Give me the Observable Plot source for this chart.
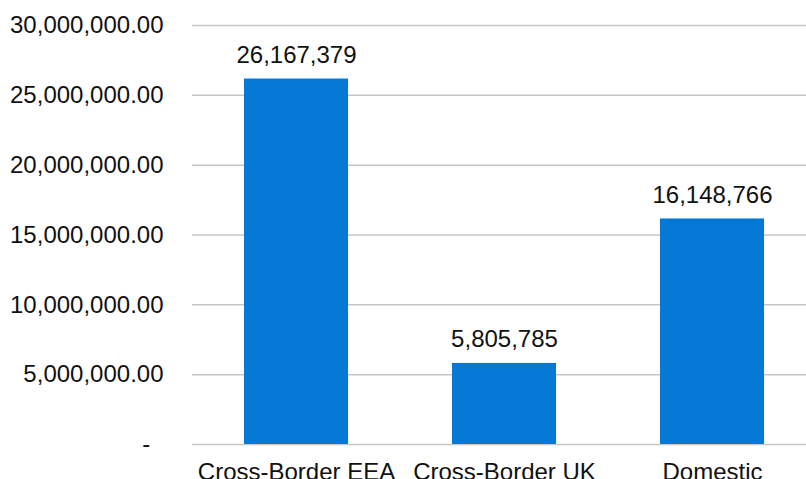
<!DOCTYPE html>
<html>
<head>
<meta charset="utf-8">
<script src="https://cdn.jsdelivr.net/npm/d3@7"></script>
<script src="https://cdn.jsdelivr.net/npm/@observablehq/plot@0.6"></script>
<style>
  html, body { margin: 0; padding: 0; background: #fff; }
  #chart svg { display: block; }
</style>
</head>
<body>
<div id="chart"></div>
<script>
const categories = ["Cross-Border EEA", "Cross-Border UK", "Domestic"];
const values = [26167379, 5805785, 16148766];
const yTicks = [0, 5000000, 10000000, 15000000, 20000000, 25000000, 30000000];

const data = categories.map((c, i) => ({category: c, value: values[i]}));

const fmtTick = v => v === 0 ? "-\u00a0\u00a0" : d3.format(",.2f")(v);
const fmtVal = d3.format(",");

const chart = Plot.plot({
  width: 806,
  height: 479,
  marginLeft: 192,
  marginRight: 0,
  marginTop: 25,
  marginBottom: 35,
  style: {fontFamily: "'Liberation Sans', Arial, sans-serif", fontSize: "24px", color: "#111", background: "#fff"},
  x: {domain: categories, range: [191.5, 816], paddingInner: 0.5, paddingOuter: 0.25, label: null},
  y: {domain: [0, 30000000], label: null},
  marks: [
    Plot.ruleY(yTicks, {stroke: "#c6c6c6", strokeWidth: 1.5}),
    Plot.barY(data, {x: "category", y: "value", fill: "#0478D4"}),
    Plot.text(data, {x: "category", y: "value", text: d => fmtVal(d.value), lineAnchor: "bottom", dy: -16, fontSize: 24, fill: "#111"}),
    Plot.axisY({ticks: yTicks, tickFormat: fmtTick, tickSize: 0, tickPadding: 29, fontSize: 24, label: null}),
    Plot.axisX({tickSize: 0, tickPadding: 18, fontSize: 24, label: null})
  ]
});
document.getElementById("chart").appendChild(chart);
</script>
</body>
</html>
